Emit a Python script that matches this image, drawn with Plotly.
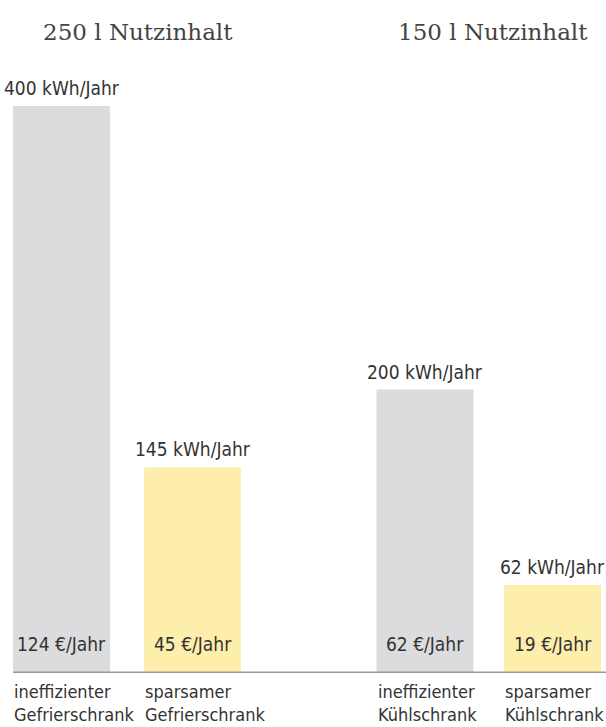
import plotly.graph_objects as go

categories = ["ineffizienter<br>Gefrierschrank", "sparsamer<br>Gefrierschrank",
              "ineffizienter<br>Kühlschrank", "sparsamer<br>Kühlschrank"]
kwh = [400, 145, 200, 62]
kwh_labels = ["400 kWh/Jahr", "145 kWh/Jahr", "200 kWh/Jahr", "62 kWh/Jahr"]
cost_labels = ["124 €/Jahr", "45 €/Jahr", "62 €/Jahr", "19 €/Jahr"]
group_titles = ["250 l Nutzinhalt", "150 l Nutzinhalt"]

# layout slots (styling)
xpos = [0, 1.008, 2.796, 3.777]
bw = 0.746
colors = ["#dcdcde", "#fdeeab", "#dcdcde", "#fdeeab"]
sans = "DejaVu Sans Condensed, Liberation Sans Narrow, Roboto, sans-serif"
serif = "DejaVu Serif, Liberation Serif, serif"
tc = "#333333"

fig = go.Figure()
fig.add_trace(go.Bar(x=xpos, y=kwh, width=bw, marker=dict(color=colors, line=dict(width=0)),
                     hoverinfo="skip"))

ann = []
for i in range(4):
    ann.append(dict(x=xpos[i], y=kwh[i], text=kwh_labels[i], showarrow=False, xanchor="center",
                    yanchor="bottom", yshift=5, font=dict(family=sans, size=19, color=tc)))
    ann.append(dict(x=xpos[i], y=0, text=cost_labels[i], showarrow=False, xanchor="center",
                    yanchor="middle", yshift=29, font=dict(family=sans, size=19, color=tc)))
    ann.append(dict(x=xpos[i] - bw / 2, y=0, text=categories[i], showarrow=False, xanchor="left",
                    yanchor="top", yshift=-6, xshift=-1, align="left",
                    font=dict(family=sans, size=18, color=tc)))
for t, px in zip(group_titles, [0.228, 0.814]):
    ann.append(dict(xref="paper", yref="paper", x=px, y=1, yshift=-32, text=t, showarrow=False,
                    xanchor="center", yanchor="middle",
                    font=dict(family=serif, size=23, color="#444444")))

fig.update_layout(
    width=606, height=727,
    margin=dict(l=0, r=0, t=0, b=54),
    plot_bgcolor="white", paper_bgcolor="white",
    showlegend=False,
    xaxis=dict(range=[-0.473, 4.188], visible=False, fixedrange=True),
    yaxis=dict(range=[0, 474.8], visible=False, fixedrange=True),
    annotations=ann,
    shapes=[dict(type="line", xref="x", yref="y", x0=xpos[0] - bw / 2, x1=4.188, y0=0, y1=0,
                 line=dict(color="#9a9a9a", width=3))],
)

fig.write_html("out.html", config={"displayModeBar": False})
with open("out.html", encoding="utf-8") as f:
    html = f.read()
html = html.replace("<body>", '<body style="margin:0;padding:0;overflow:hidden">', 1)
with open("out.html", "w", encoding="utf-8") as f:
    f.write(html)
